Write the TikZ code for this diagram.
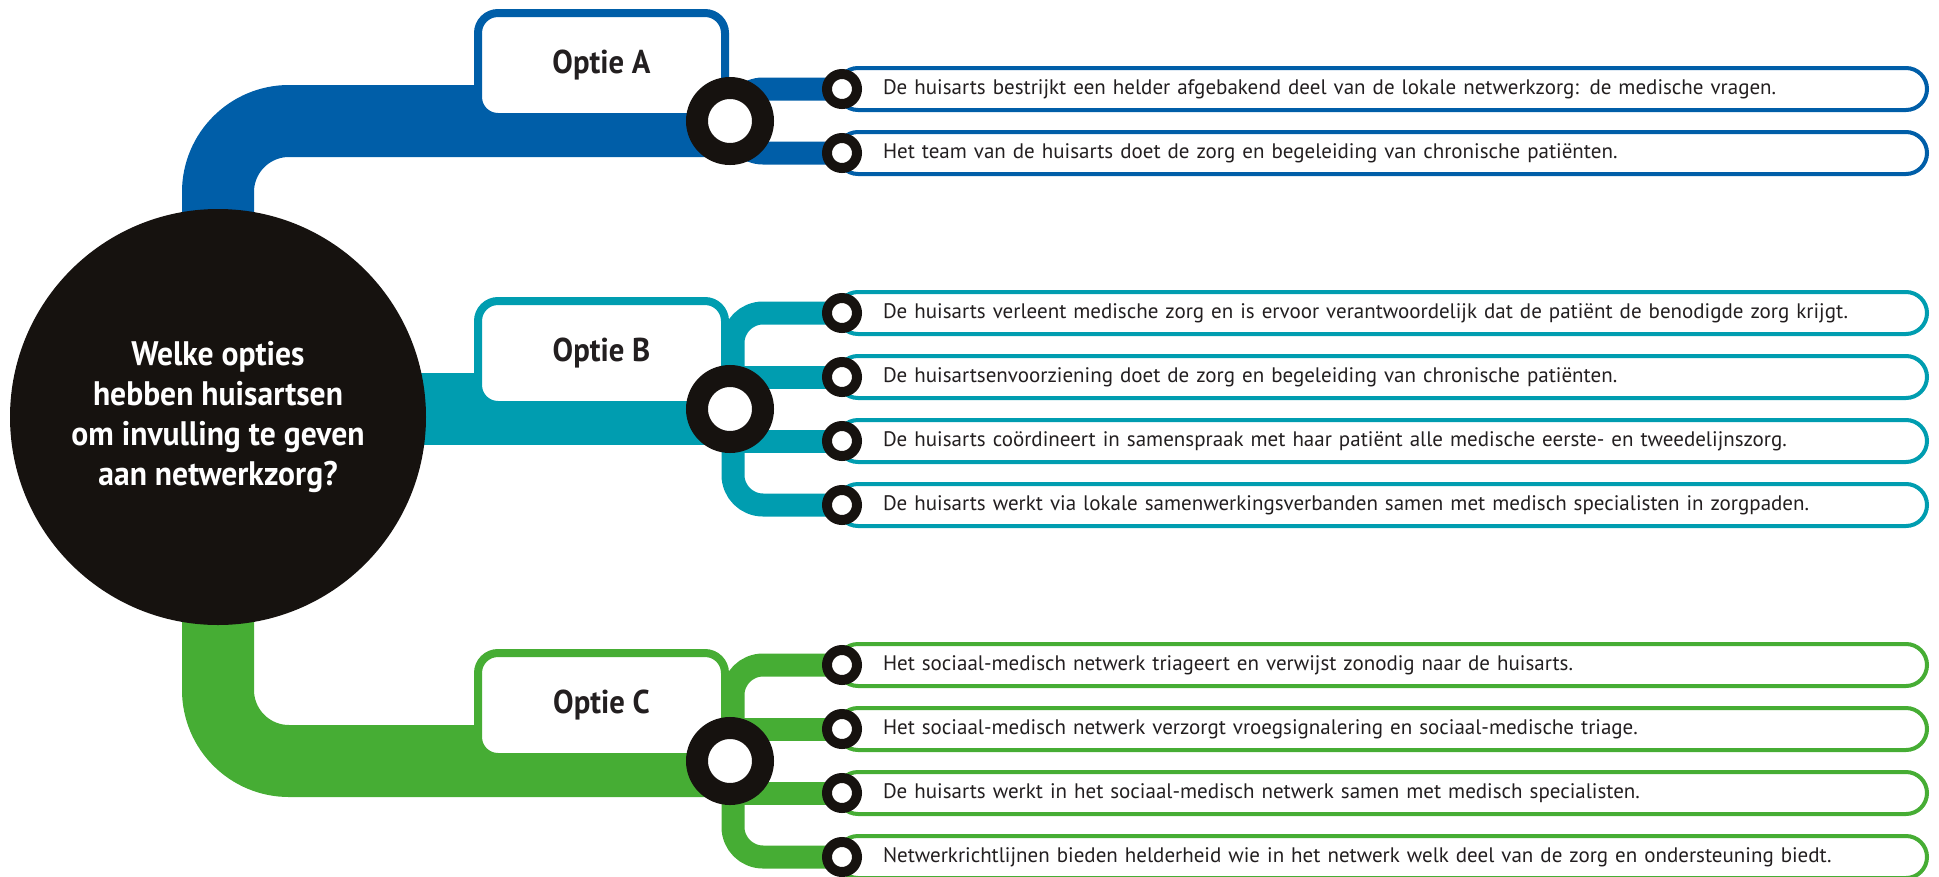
\documentclass[tikz,border=0pt]{standalone}
\usepackage{fontspec}
\setmainfont{PT Sans}
\newfontfamily\headfont{PT Sans}[FakeStretch=0.93]
\usetikzlibrary{backgrounds}
\pgfdeclarelayer{links}
\pgfsetlayers{links,main}

\definecolor{optblue}{RGB}{0,94,168}
\definecolor{optteal}{RGB}{0,157,176}
\definecolor{optgreen}{RGB}{70,173,52}
\definecolor{ink}{RGB}{22,18,15}
\definecolor{txt}{RGB}{35,31,32}

\tikzset{
  mainbar/.style={line width=72pt, rounded corners=71pt},
  branch/.style={line width=23pt, rounded corners=30pt},
  hub/.style={circle, fill=ink, minimum size=416pt, inner sep=0pt, outer sep=0pt,
    text=white, align=center, font=\headfont\bfseries\fontsize{34}{40}\selectfont},
  optbox/.style={draw=#1, line width=8pt, fill=white, rounded corners=20pt,
    minimum width=247pt, minimum height=104pt, inner sep=0pt, outer sep=0pt,
    text=txt, font=\headfont\bfseries\fontsize{33}{40}\selectfont},
  bigring/.style={circle, draw=ink, line width=22pt, fill=white,
    minimum size=66pt, inner sep=0pt, outer sep=0pt},
  dotring/.style={circle, draw=ink, line width=10pt, fill=white,
    minimum size=30pt, inner sep=0pt, outer sep=0pt},
  item/.style={draw=#1, line width=4pt, fill=white, rounded corners=21pt,
    minimum height=42pt, inner xsep=46pt, inner ysep=0pt, outer sep=0pt,
    text width=998pt, align=left, anchor=west, text=txt,
    font=\fontsize{21}{25}\selectfont},
}

\begin{document}
\begin{tikzpicture}[x=1pt, y=-1pt]
\useasboundingbox (0,0) rectangle (1939,876);

% central question
\node[hub] (hub) at (218,417) {Welke opties\\hebben huisartsen\\om invulling te geven\\aan netwerkzorg?};

% option labels
\node[optbox=optblue]  (optA) at (601.5,65)  {Optie A};
\node[optbox=optteal]  (optB) at (601.5,353) {Optie B};
\node[optbox=optgreen] (optC) at (601.5,705) {Optie C};

% junction rings
\node[bigring] (ringA) at (730,121) {};
\node[bigring] (ringB) at (730,409) {};
\node[bigring] (ringC) at (730,761) {};

% statements of option A
\node[item=optblue] (itA1) at (837,89)  {De huisarts bestrijkt een helder afgebakend deel van de lokale netwerkzorg: de medische vragen.};
\node[item=optblue] (itA2) at (837,153) {Het team van de huisarts doet de zorg en begeleiding van chronische patiënten.};
% statements of option B
\node[item=optteal] (itB1) at (837,313) {De huisarts verleent medische zorg en is ervoor verantwoordelijk dat de patiënt de benodigde zorg krijgt.};
\node[item=optteal] (itB2) at (837,377) {De huisartsenvoorziening doet de zorg en begeleiding van chronische patiënten.};
\node[item=optteal] (itB3) at (837,441) {De huisarts coördineert in samenspraak met haar patiënt alle medische eerste- en tweedelijnszorg.};
\node[item=optteal] (itB4) at (837,505) {De huisarts werkt via lokale samenwerkingsverbanden samen met medisch specialisten in zorgpaden.};
% statements of option C
\node[item=optgreen] (itC1) at (837,665) {Het sociaal-medisch netwerk triageert en verwijst zonodig naar de huisarts.};
\node[item=optgreen] (itC2) at (837,729) {Het sociaal-medisch netwerk verzorgt vroegsignalering en sociaal-medische triage.};
\node[item=optgreen] (itC3) at (837,793) {De huisarts werkt in het sociaal-medisch netwerk samen met medisch specialisten.};
\node[item=optgreen] (itC4) at (837,857) {Netwerkrichtlijnen bieden helderheid wie in het netwerk welk deel van de zorg en ondersteuning biedt.};

% small rings at the start of each statement
\foreach \n in {A1,A2,B1,B2,B3,B4,C1,C2,C3,C4}
  \node[dotring] (dot\n) at ([xshift=5pt]it\n.west) {};

\begin{pgfonlayer}{links}
  % thick trunks from the question to each option
  \draw[mainbar, optblue]  (hub.center) |- (ringA.center);
  \draw[mainbar, optteal]  (hub.center |- ringB.center) -- (ringB.center);
  \draw[mainbar, optgreen] (hub.center) |- (ringC.center);
  % branches to the statements
  \draw[branch, optblue] (dotA1.center) -| ([xshift=3pt]ringA.center) |- (dotA2.center);
  \draw[branch, optteal] (dotB1.center) -| ([xshift=3pt]ringB.center) |- (dotB4.center);
  \draw[branch, optteal] (ringB.center |- dotB2.center) -- (dotB2.center);
  \draw[branch, optteal] (ringB.center |- dotB3.center) -- (dotB3.center);
  \draw[branch, optgreen] (dotC1.center) -| ([xshift=3pt]ringC.center) |- (dotC4.center);
  \draw[branch, optgreen] (ringC.center |- dotC2.center) -- (dotC2.center);
  \draw[branch, optgreen] (ringC.center |- dotC3.center) -- (dotC3.center);
\end{pgfonlayer}
\end{tikzpicture}
\end{document}
